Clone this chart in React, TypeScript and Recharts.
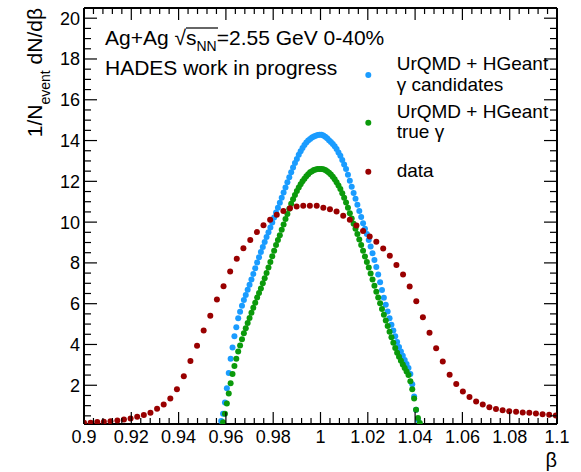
import { ScatterChart, Scatter, XAxis, YAxis, ReferenceLine } from 'recharts'

const W = 581
const H = 472
const LEFT = 84
const TOP = 8
const RIGHT = 557
const BOTTOM = 424
const FONT = '"Liberation Sans", Arial, Helvetica, sans-serif'

const BLUE = '#1a9cff'
const GREEN = '#0b9a0b'
const RED = '#990000'
const DOT = 3

// axes
const xMajor = [0.9, 0.92, 0.94, 0.96, 0.98, 1, 1.02, 1.04, 1.06, 1.08, 1.1]
const xLabels = ['0.9', '0.92', '0.94', '0.96', '0.98', '1', '1.02', '1.04', '1.06', '1.08', '1.1']
const yMajor = [2, 4, 6, 8, 10, 12, 14, 16, 18, 20]
const yLabels = ['2', '4', '6', '8', '10', '12', '14', '16', '18', '20']
const yMin = 0.1
const yMax = 20.5

// simulation histograms (bin centres in beta)
const simBeta = [
    0.958, 0.9588, 0.9596, 0.9604, 0.9612, 0.962, 0.9628, 0.9636, 0.9644, 0.9652,
    0.966, 0.9668, 0.9676, 0.9684, 0.9692, 0.97, 0.9708, 0.9716, 0.9724, 0.9732,
    0.974, 0.9748, 0.9756, 0.9764, 0.9772, 0.978, 0.9788, 0.9796, 0.9804, 0.9812,
    0.982, 0.9828, 0.9836, 0.9844, 0.9852, 0.986, 0.9868, 0.9876, 0.9884, 0.9892,
    0.99, 0.9908, 0.9916, 0.9924, 0.9932, 0.994, 0.9948, 0.9956, 0.9964, 0.9972,
    0.998, 0.9988, 0.9996, 1.0004, 1.0012, 1.002, 1.0028, 1.0036, 1.0044, 1.0052,
    1.006, 1.0068, 1.0076, 1.0084, 1.0092, 1.01, 1.0108, 1.0116, 1.0124, 1.0132,
    1.014, 1.0148, 1.0156, 1.0164, 1.0172, 1.018, 1.0188, 1.0196, 1.0204, 1.0212,
    1.022, 1.0228, 1.0236, 1.0244, 1.0252, 1.026, 1.0268, 1.0276, 1.0284, 1.0292,
    1.03, 1.0308, 1.0316, 1.0324, 1.0332, 1.034, 1.0348, 1.0356, 1.0364, 1.0372,
    1.038, 1.0388, 1.0396, 1.0404, 1.0412, 1.042,
]

const candidates = [
    0.25, 0.6, 1.15, 1.85, 2.6, 3.3, 3.85, 4.4, 4.85, 5.28,
    5.6, 5.9, 6.18, 6.43, 6.68, 6.93, 7.19, 7.46, 7.74, 8.02,
    8.28, 8.53, 8.78, 9.02, 9.27, 9.5, 9.74, 9.98, 10.23, 10.47,
    10.71, 10.95, 11.2, 11.45, 11.7, 11.95, 12.2, 12.45, 12.68, 12.9,
    13.1, 13.3, 13.48, 13.64, 13.78, 13.9, 14.0, 14.08, 14.15, 14.2,
    14.24, 14.27, 14.28, 14.28, 14.25, 14.19, 14.11, 14.02, 13.93, 13.83,
    13.72, 13.58, 13.42, 13.25, 13.05, 12.83, 12.6, 12.32, 12.03, 11.73,
    11.43, 11.15, 10.85, 10.55, 10.25, 9.95, 9.68, 9.42, 9.12, 8.8,
    8.47, 8.14, 7.8, 7.43, 7.05, 6.67, 6.29, 5.95, 5.62, 5.28,
    4.97, 4.68, 4.4, 4.12, 3.87, 3.66, 3.45, 3.24, 3.04, 2.85,
    2.55, 2.05, 1.45, 0.8, 0.3, null,
]

const trueGamma = [
    null, 0.18, 0.6, 1.1, 1.6, 2.1, 2.55, 2.95, 3.3, 3.65,
    3.95, 4.25, 4.55, 4.8, 5.05, 5.3, 5.55, 5.8, 6.05, 6.3,
    6.52, 6.75, 7.0, 7.25, 7.5, 7.78, 8.05, 8.33, 8.6, 8.88,
    9.12, 9.36, 9.62, 9.88, 10.15, 10.4, 10.65, 10.9, 11.12, 11.33,
    11.52, 11.7, 11.86, 12.0, 12.13, 12.25, 12.35, 12.44, 12.5, 12.55,
    12.58, 12.6, 12.61, 12.61, 12.59, 12.55, 12.49, 12.42, 12.33, 12.22,
    12.1, 11.96, 11.8, 11.62, 11.42, 11.2, 10.96, 10.7, 10.44, 10.18,
    9.92, 9.68, 9.42, 9.15, 8.88, 8.6, 8.32, 8.05, 7.77, 7.48,
    7.18, 6.88, 6.58, 6.3, 6.02, 5.74, 5.46, 5.18, 4.9, 4.62,
    4.35, 4.08, 3.83, 3.6, 3.4, 3.2, 3.02, 2.85, 2.68, 2.5,
    2.2, 1.8, 1.35, 0.8, 0.4, 0.15,
]

// measured data
const dataBeta = [
    0.9, 0.9028, 0.9056, 0.9084, 0.9112, 0.9141, 0.9169, 0.9197, 0.9225, 0.9253,
    0.9281, 0.9309, 0.9337, 0.9365, 0.9393, 0.9422, 0.945, 0.9478, 0.9506, 0.9534,
    0.9562, 0.959, 0.9618, 0.9646, 0.9674, 0.9703, 0.9731, 0.9759, 0.9787, 0.9815,
    0.9843, 0.9871, 0.9899, 0.9927, 0.9955, 0.9984, 1.0012, 1.004, 1.0068, 1.0096,
    1.0124, 1.0152, 1.018, 1.0208, 1.0236, 1.0265, 1.0293, 1.0321, 1.0349, 1.0377,
    1.0405, 1.0433, 1.0461, 1.0489, 1.0517, 1.0546, 1.0574, 1.0602, 1.063, 1.0658,
    1.0686, 1.0714, 1.0742, 1.077, 1.0798, 1.0827, 1.0855, 1.0883, 1.0911, 1.0939,
    1.0967, 1.0995,
]

const dataValues = [
    0.16, 0.16, 0.2, 0.21, 0.24, 0.27, 0.32, 0.37, 0.45, 0.54,
    0.65, 0.85, 1.06, 1.35, 1.8, 2.44, 3.19, 3.94, 4.69, 5.41,
    6.2, 6.86, 7.58, 8.2, 8.72, 9.12, 9.51, 9.85, 10.11, 10.36,
    10.55, 10.68, 10.76, 10.8, 10.8, 10.8, 10.71, 10.63, 10.52, 10.31,
    10.11, 9.84, 9.57, 9.3, 9.04, 8.71, 8.35, 7.9, 7.43, 6.84,
    6.12, 5.34, 4.58, 3.82, 3.16, 2.52, 2.06, 1.69, 1.43, 1.2,
    1.06, 0.92, 0.84, 0.78, 0.73, 0.7, 0.66, 0.65, 0.62, 0.58,
    0.55, 0.52,
]

function toPoints(xs: number[], ys: (number | null)[]) {
    const out: { x: number; y: number }[] = []
    xs.forEach((x, i) => {
        const y = ys[i]
        if (y !== null && y !== undefined) out.push({ x, y })
    })
    return out
}

const series = [
    { name: 'UrQMD + HGeant\nγ candidates', color: BLUE, points: toPoints(simBeta, candidates) },
    { name: 'UrQMD + HGeant\ntrue γ', color: GREEN, points: toPoints(simBeta, trueGamma) },
    { name: 'data', color: RED, points: toPoints(dataBeta, dataValues) },
]

// ticks: majors plus ROOT style subdivisions
function withMinor(major: number[], parts: number) {
    const t: number[] = []
    for (let i = 0; i < major.length - 1; i++) {
        const step = (major[i + 1] - major[i]) / parts
        for (let j = 0; j < parts; j++) t.push(+(major[i] + j * step).toFixed(6))
    }
    t.push(major[major.length - 1])
    return t
}
const xTicks = withMinor(xMajor, 5)
const yTicks = withMinor([0, ...yMajor], 4).filter((v) => v > yMin)

function majorIndex(list: number[], v: number) {
    return list.findIndex((m) => Math.abs(m - v) < 1e-6)
}

function XTick(props: any) {
    const { x, y, payload } = props
    const i = majorIndex(xMajor, payload.value)
    const len = i >= 0 ? 12 : 6
    return (
        <g>
            <line x1={x} x2={x} y1={y} y2={y - len} stroke="#000" strokeWidth={1.2} />
            <line x1={x} x2={x} y1={TOP} y2={TOP + len} stroke="#000" strokeWidth={1.2} />
            {i >= 0 && (
                <text x={x} y={y + 19} textAnchor="middle" fontSize={18} fontFamily={FONT} fill="#000">
                    {xLabels[i]}
                </text>
            )}
        </g>
    )
}

function YTick(props: any) {
    const { x, y, payload } = props
    const i = majorIndex(yMajor, payload.value)
    const len = i >= 0 ? 13 : 7
    return (
        <g>
            <line x1={x} x2={x + len} y1={y} y2={y} stroke="#000" strokeWidth={1.2} />
            <line x1={RIGHT} x2={RIGHT - len} y1={y} y2={y} stroke="#000" strokeWidth={1.2} />
            {i >= 0 && (
                <text x={x - 4} y={y} dy="0.36em" textAnchor="end" fontSize={18} fontFamily={FONT} fill="#000">
                    {yLabels[i]}
                </text>
            )}
        </g>
    )
}

const legendMarkerY = [75, 122.7, 171.7]

export default function App() {
    return (
        <div style={{ position: 'absolute', left: 0, top: 0, width: W, height: H, background: '#fff', fontFamily: FONT }}>
            <ScatterChart width={W} height={H} margin={{ top: TOP, right: W - RIGHT, bottom: 0, left: 0 }}>
                <XAxis
                    type="number"
                    dataKey="x"
                    domain={[0.9, 1.1]}
                    allowDataOverflow
                    ticks={xTicks}
                    interval={0}
                    tick={<XTick />}
                    tickLine={false}
                    tickSize={0}
                    tickMargin={0}
                    height={H - BOTTOM}
                    axisLine={{ stroke: '#000', strokeWidth: 2 }}
                />
                <YAxis
                    type="number"
                    dataKey="y"
                    domain={[yMin, yMax]}
                    allowDataOverflow
                    ticks={yTicks}
                    interval={0}
                    tick={<YTick />}
                    tickLine={false}
                    tickSize={0}
                    tickMargin={0}
                    width={LEFT}
                    axisLine={{ stroke: '#000', strokeWidth: 2 }}
                />
                <ReferenceLine y={yMax} stroke="#000" strokeWidth={2} />
                <ReferenceLine x={1.1} stroke="#000" strokeWidth={2} />
                {series.map((s) => (
                    <Scatter
                        key={s.name}
                        name={s.name}
                        data={s.points}
                        fill={s.color}
                        isAnimationActive={false}
                        shape={(p: any) => <circle cx={p.cx} cy={p.cy} r={DOT} fill={s.color} />}
                    />
                ))}
            </ScatterChart>
            <svg width={W} height={H} style={{ position: 'absolute', left: 0, top: 0, pointerEvents: 'none' }} fontFamily={FONT}>
                <text x={105} y={45} fontSize={21} fill="#000">
                    Ag+Ag √s<tspan fontSize={14} dy={6}>NN</tspan>
                    <tspan dy={-6}>=2.55 GeV 0-40%</tspan>
                </text>
                <line x1={186} x2={218} y1={28} y2={28} stroke="#000" strokeWidth={1.2} />
                <text x={105} y={75} fontSize={21} fill="#000">HADES work in progress</text>
                <text transform="rotate(-90)" x={-TOP} y={42} textAnchor="end" fontSize={21} fill="#000">
                    1/N<tspan fontSize={14} dy={8}>event</tspan>
                    <tspan dy={-8}> dN/dβ</tspan>
                </text>
                <text x={RIGHT} y={467} textAnchor="end" fontSize={20} fill="#000">β</text>
                {series.map((s, k) => {
                    const lines = s.name.split('\n')
                    const my = legendMarkerY[k]
                    return (
                        <g key={s.name}>
                            <circle cx={368.3} cy={my} r={DOT} fill={s.color} />
                            {lines.map((ln, j) => (
                                <text key={j} x={396.7} y={my + 5.5 + (j - (lines.length - 1) / 2) * 20.5} fontSize={19} fill="#000">
                                    {ln}
                                </text>
                            ))}
                        </g>
                    )
                })}
            </svg>
        </div>
    )
}
